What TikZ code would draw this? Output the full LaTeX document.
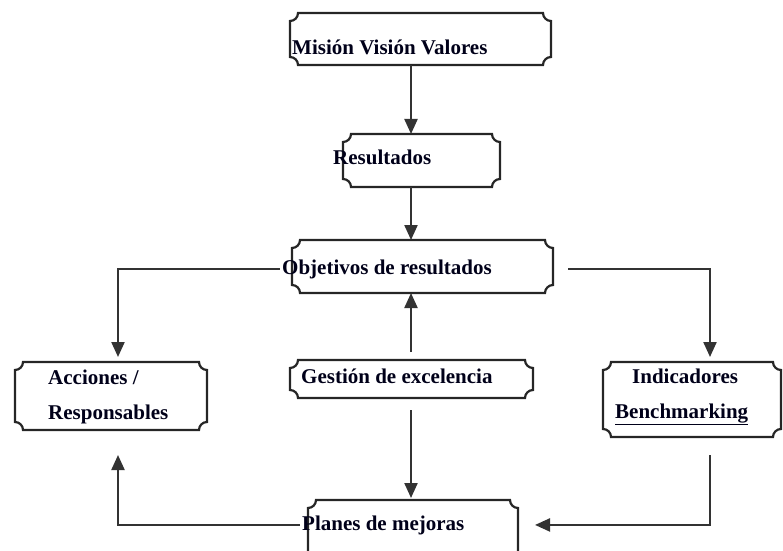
\documentclass[tikz,border=0pt]{standalone}
\usepackage{fontspec}
\setmainfont{Liberation Serif}
\usetikzlibrary{arrows.meta}
\tikzset{
 boxn/.style={rectangle, inner sep=0pt, outer sep=0pt},
 boxline/.style={draw=black!85, line width=2.2pt},
 lbl/.style={inner sep=0pt, anchor=base west, text=black!90!blue, font=\fontsize{21}{25}\selectfont\bfseries},
 conn/.style={draw=black!80, line width=2.2pt, -{Triangle[length=15pt,width=13pt]}},
}
\newcommand\plaque[1]{%
 \draw[boxline] ([xshift=8pt]#1.north west) -- ([xshift=-8pt]#1.north east)
   arc[start angle=180,end angle=270,radius=8pt]
   -- ([yshift=8pt]#1.south east) arc[start angle=90,end angle=180,radius=8pt]
   -- ([xshift=8pt]#1.south west) arc[start angle=0,end angle=90,radius=8pt]
   -- ([yshift=-8pt]#1.north west) arc[start angle=-90,end angle=0,radius=8pt] -- cycle;}
\begin{document}
\begin{tikzpicture}[x=1pt,y=1pt]
\useasboundingbox (0,0) rectangle (783,550);
\clip (0,0) rectangle (783,550);
% boxes
\node[boxn, minimum width=261pt, minimum height=52pt] (mision) at (420.5,511) {};
\node[boxn, minimum width=157pt, minimum height=53pt] (result) at (421.5,389.5) {};
\node[boxn, minimum width=261pt, minimum height=53pt] (objet) at (422.5,283.5) {};
\node[boxn, minimum width=192pt, minimum height=68pt] (acc) at (111,154) {};
\node[boxn, minimum width=243pt, minimum height=38pt] (gest) at (411.5,171) {};
\node[boxn, minimum width=178pt, minimum height=75pt] (ind) at (692,150.5) {};
\node[boxn, minimum width=210pt, minimum height=60pt] (planes) at (413,20) {};
\plaque{mision}\plaque{result}\plaque{objet}\plaque{acc}\plaque{gest}\plaque{ind}\plaque{planes}
% texts
\node[lbl] (tmision) at (292,495) {Misión Visión Valores};
\node[lbl] (tresult) at (333,386) {Resultados};
\node[lbl] (tobjet) at (282,276) {Objetivos de resultados};
\node[lbl] (tacc1) at (48,166) {Acciones /};
\node[lbl] (tacc2) at (48,131) {Responsables};
\node[lbl] (tgest) at (301,167) {Gestión de excelencia};
\node[lbl] (tind1) at (632,167) {Indicadores};
\node[lbl] (tind2) at (615,132) {\underline{Benchmarking}};
\node[lbl] (tplanes) at (302,20) {Planes de mejoras};
% connectors
\coordinate (axis) at (411,0);
\coordinate (lcol) at (118,0);
\coordinate (rcol) at (710,0);
\draw[conn] (mision.south -| axis) -- (result.north -| axis);
\draw[conn] (result.south -| axis) -- (objet.north -| axis);
\draw[conn, shorten <=8pt] (gest.north -| axis) -- (objet.south -| axis);
\draw[conn, shorten <=12pt, shorten >=2pt] (gest.south -| axis) -- (planes.north -| axis);
\draw[conn, shorten >=5pt] ([xshift=-2pt]tobjet.west) -| (acc.north -| lcol);
\draw[conn, shorten >=5pt] ([xshift=15pt]objet.east |- tobjet.west) -| (ind.north -| rcol);
\draw[conn, shorten >=25pt] ([xshift=-2pt]tplanes.west) -| (acc.south -| lcol);
\draw[conn, shorten <=18pt] (ind.south -| rcol) |- ([xshift=17pt]planes.east |- tplanes.west);
\end{tikzpicture}
\end{document}
